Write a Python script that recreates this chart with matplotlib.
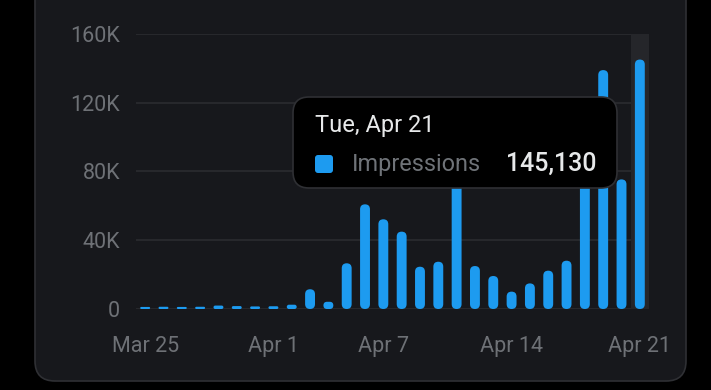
import matplotlib
matplotlib.use("Agg")
import matplotlib.pyplot as plt
from matplotlib.patches import FancyBboxPatch
from matplotlib.transforms import IdentityTransform
import numpy as np

# daily impressions, Mar 25 .. Apr 21
days = ["Mar 25", "Mar 26", "Mar 27", "Mar 28", "Mar 29", "Mar 30", "Mar 31",
        "Apr 1", "Apr 2", "Apr 3", "Apr 4", "Apr 5", "Apr 6", "Apr 7",
        "Apr 8", "Apr 9", "Apr 10", "Apr 11", "Apr 12", "Apr 13", "Apr 14",
        "Apr 15", "Apr 16", "Apr 17", "Apr 18", "Apr 19", "Apr 20", "Apr 21"]
impressions = [1200, 1300, 1200, 1300, 2000, 1700, 1500, 1600, 2500, 11500,
               4200, 26600, 60900, 52200, 45000, 24600, 27500, 100000, 25000,
               19200, 10100, 14900, 22300, 28100, 95000, 139000, 75400, 145130]
y_ticks = [0, 40000, 80000, 120000, 160000]
y_labels = ["0", "40K", "80K", "120K", "160K"]
x_label_days = ["Mar 25", "Apr 1", "Apr 7", "Apr 14", "Apr 21"]

tip_title = "Tue, Apr 21"
tip_series = "Impressions"
tip_value = "145,130"

BLUE = "#1d9bf0"
PANEL = "#17181c"
GRID = "#2b2c30"
TICK = "#6e7176"

plt.rcParams["font.family"] = ["Roboto", "DejaVu Sans"]

W, H = 711, 390
fig = plt.figure(figsize=(W / 100, H / 100), dpi=100)
fig.patch.set_facecolor("black")

def px(x, y):
    # image pixel (top-left origin) -> display coords
    return x, H - y

# card panel
x0, y0 = px(35, 381)
panel = FancyBboxPatch((x0, y0), 651, 420, boxstyle="round,pad=0,rounding_size=20",
                       transform=IdentityTransform(), facecolor=PANEL,
                       edgecolor="#2f3034", linewidth=1.2, zorder=-5)
fig.patches.append(panel)

ax = fig.add_axes([136 / W, 81 / H, 513 / W, 275 / H])
ax.set_facecolor("none")
x = np.arange(len(days))
ax.set_xlim(-0.5, len(days) - 0.5)
ax.set_ylim(0, 160000)
for s in ax.spines.values():
    s.set_visible(False)

for t in y_ticks:
    ax.axhline(t, color=GRID, linewidth=1.2, zorder=0.5)

# hovered day column
ax.axvspan(len(days) - 1.5, len(days) - 0.5, color="#25262a", zorder=1, linewidth=0)

# rounded bars
fig.canvas.draw()
bb = ax.get_window_extent()
px_per_x = bb.width / len(days)
yunits_per_px = 160000 / bb.height
aspect = yunits_per_px * px_per_x
bw = 0.54
for xi, v in zip(x, impressions):
    h_px = v / yunits_per_px
    r_px = min(bw * px_per_x / 2, h_px / 2)
    r = r_px / px_per_x
    p = FancyBboxPatch((xi - bw / 2, 0), bw, v,
                       boxstyle=f"round,pad=0,rounding_size={r}",
                       mutation_aspect=aspect, facecolor=BLUE, edgecolor="none",
                       zorder=2)
    ax.add_patch(p)

ax.set_yticks(y_ticks)
ax.set_yticklabels(y_labels)
ax.set_xticks([days.index(d) for d in x_label_days])
ax.set_xticklabels(x_label_days)
ax.tick_params(axis="y", length=0, pad=11.5, labelsize=15.5, labelcolor=TICK)
ax.tick_params(axis="x", length=0, pad=19.5, labelsize=15.5, labelcolor=TICK)

# tooltip
tx, ty = px(293, 188)
tip = FancyBboxPatch((tx, ty), 324, 91, boxstyle="round,pad=0,rounding_size=16",
                     transform=IdentityTransform(), facecolor="black",
                     edgecolor="#2f3034", linewidth=1.2, zorder=10)
fig.patches.append(tip)
sx, sy = px(315, 173)
sq = FancyBboxPatch((sx, sy), 18, 18, boxstyle="round,pad=0,rounding_size=3",
                    transform=IdentityTransform(), facecolor=BLUE,
                    edgecolor="none", zorder=11)
fig.patches.append(sq)

def fig_text(xp, yp, s, **kw):
    a, b = px(xp, yp)
    fig.text(a / W, b / H, s, zorder=12, **kw)

fig_text(315, 132, tip_title, fontsize=17, color="#e7e9ea", va="baseline")
fig_text(352, 171, tip_series, fontsize=16.8, color="#6f7378", va="baseline")
fig_text(596, 171, tip_value, fontsize=18, color="#e7e9ea", va="baseline",
         ha="right", fontweight="medium")

fig.savefig("out.png", dpi=100, facecolor=fig.get_facecolor())
